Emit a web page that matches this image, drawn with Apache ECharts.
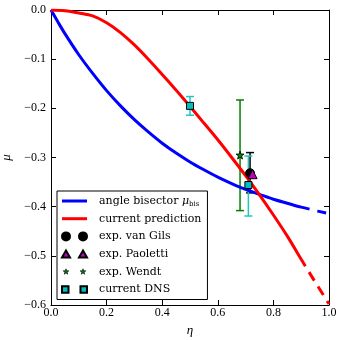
<!DOCTYPE html>
<html>
<head>
<meta charset="utf-8">
<script src="https://cdn.jsdelivr.net/npm/echarts@6.0.0/dist/echarts.min.js"></script>
<style>
  html, body { margin: 0; padding: 0; background: #fff; }
  #chart { width: 340px; height: 340px; }
</style>
</head>
<body>
<div id="chart"></div>
<script>
// angle bisector mu_bis, solid part and dashed tail
const etaBis = [0, 0.025, 0.05, 0.1, 0.15, 0.2, 0.25, 0.3, 0.35, 0.4, 0.45, 0.5, 0.55, 0.6, 0.65, 0.7, 0.75, 0.8, 0.85, 0.9, 0.93];
const muBis = [0, -0.0245, -0.048, -0.091, -0.129, -0.164, -0.195, -0.223, -0.248, -0.271, -0.291, -0.309, -0.325, -0.34, -0.353, -0.365, -0.375, -0.385, -0.393, -0.401, -0.405];
const etaBisTail = [0.93, 0.96, 1.0];
const muBisTail = [-0.405, -0.409, -0.414];

// current prediction
const etaPred = [0, 0.05, 0.1, 0.15, 0.2, 0.25, 0.3, 0.35, 0.4, 0.45, 0.5, 0.55, 0.6, 0.65, 0.7, 0.75, 0.8, 0.85, 0.9, 0.915];
const muPred = [0, -0.0015, -0.006, -0.012, -0.026, -0.046, -0.071, -0.1, -0.131, -0.163, -0.196, -0.23, -0.264, -0.3, -0.337, -0.376, -0.417, -0.46, -0.507, -0.521];
const etaPredTail = [0.915, 0.95, 1.0];
const muPredTail = [-0.521, -0.553, -0.598];

// measurements
const gilsEta = [0.716], gilsMu = [-0.332], gilsLo = [-0.372], gilsHi = [-0.29];
const paolettiEta = [0.725], paolettiMu = [-0.334];
const wendtEta = [0.68], wendtMu = [-0.295], wendtLo = [-0.408], wendtHi = [-0.183];
const dnsEta = [0.5, 0.71], dnsMu = [-0.195, -0.356], dnsLo = [-0.214, -0.419], dnsHi = [-0.176, -0.297];

const xTicks = [0, 0.2, 0.4, 0.6, 0.8, 1.0];
const yTicks = [0, -0.1, -0.2, -0.3, -0.4, -0.5, -0.6];

const FONT = '"Liberation Serif", "DejaVu Serif", serif';
const LEGEND_FONT = '"DejaVu Serif", serif';
const STAR = 'path://M4,0L4.94,2.71L7.8,2.76L5.52,4.49L6.35,7.24L4,5.6L1.65,7.24L2.48,4.49L0.2,2.76L3.06,2.71Z';

const pairs = (xs, ys) => xs.map((x, i) => [x, ys[i]]);

function errorBars(name, color, eta, lo, hi) {
  return {
    type: 'custom',
    name: name,
    z: 1,
    silent: true,
    data: eta.map((x, i) => [x, lo[i], hi[i]]),
    encode: { x: 0, y: [1, 2] },
    renderItem(params, api) {
      const top = api.coord([api.value(0), api.value(2)]);
      const bot = api.coord([api.value(0), api.value(1)]);
      const w = 4;
      const style = { stroke: color, lineWidth: 1.5 };
      return {
        type: 'group',
        children: [
          { type: 'line', shape: { x1: top[0], y1: top[1], x2: bot[0], y2: bot[1] }, style },
          { type: 'line', shape: { x1: top[0] - w, y1: top[1], x2: top[0] + w, y2: top[1] }, style },
          { type: 'line', shape: { x1: bot[0] - w, y1: bot[1], x2: bot[0] + w, y2: bot[1] }, style },
        ],
      };
    },
  };
}

const fmtY = v => (Math.abs(v) < 1e-9 ? '0.0' : '\u2212' + Math.abs(v).toFixed(1));
const fmtX = v => v.toFixed(1);

const baseX = {
  type: 'value', min: xTicks[0], max: xTicks[xTicks.length - 1], interval: 0.2,
  axisLine: { show: true, onZero: false, lineStyle: { color: '#000', width: 1 } },
  axisTick: { show: true, inside: true, length: 5, lineStyle: { color: '#000' } },
  splitLine: { show: false },
};
const baseY = {
  type: 'value', min: yTicks[yTicks.length - 1], max: yTicks[0], interval: 0.1,
  axisLine: { show: true, onZero: false, lineStyle: { color: '#000', width: 1 } },
  axisTick: { show: true, inside: true, length: 5, lineStyle: { color: '#000' } },
  splitLine: { show: false },
};

const option = {
  animation: false,
  backgroundColor: '#fff',
  textStyle: { fontFamily: FONT },
  grid: { left: 51, right: 11, top: 10, bottom: 35, containLabel: false, outerBoundsMode: 'none' },
  xAxis: [
    Object.assign({}, baseX, {
      position: 'bottom',
      name: '\u03b7', nameLocation: 'middle', nameGap: 15,
      nameTextStyle: { fontFamily: FONT, fontStyle: 'italic', fontSize: 13, color: '#000' },
      axisLabel: { formatter: fmtX, margin: 2, fontFamily: FONT, fontSize: 12, color: '#000' },
    }),
    Object.assign({}, baseX, { position: 'top', axisLabel: { show: false } }),
  ],
  yAxis: [
    Object.assign({}, baseY, {
      position: 'left',
      name: '\u03bc', nameLocation: 'middle', nameGap: 38, nameRotate: 90,
      nameTextStyle: { fontFamily: FONT, fontStyle: 'italic', fontSize: 13, color: '#000' },
      axisLabel: { formatter: fmtY, margin: 5, fontFamily: FONT, fontSize: 12, color: '#000' },
    }),
    Object.assign({}, baseY, { position: 'right', axisLabel: { show: false } }),
  ],
  legend: {
    orient: 'vertical',
    left: 57, top: 191,
    padding: [3, 6, 3, 4],
    itemWidth: 25, itemHeight: 8, itemGap: 3.7,
    backgroundColor: '#fff',
    borderColor: '#000', borderWidth: 1, borderRadius: 0,
    selectedMode: false,
    textStyle: {
      fontFamily: LEGEND_FONT, fontSize: 11, color: '#000', lineHeight: 14, padding: [0, 0, 0, 7],
      rich: {
        it: { fontFamily: LEGEND_FONT, fontStyle: 'italic', fontSize: 11, lineHeight: 14 },
        sub: { fontFamily: LEGEND_FONT, fontSize: 7, lineHeight: 14, verticalAlign: 'bottom', padding: [4, 0, 0, 0] },
      },
    },
    formatter: name => name === 'angle bisector' ? 'angle bisector {it|\u03bc}{sub|bis}' : name,
    data: [
      { name: 'angle bisector', icon: 'path://M0,0h25v3h-25z', itemStyle: { borderWidth: 0 } },
      { name: 'current prediction', icon: 'path://M0,0h25v3h-25z', itemStyle: { borderWidth: 0 } },
      { name: 'exp. van Gils', icon: 'path://M0,4a4,4 0 1,0 8,0a4,4 0 1,0 -8,0Z M17,4a4,4 0 1,0 8,0a4,4 0 1,0 -8,0Z' },
      { name: 'exp. Paoletti', icon: 'path://M0,7L4,0L8,7Z M17,7L21,0L25,7Z' },
      { name: 'exp. Wendt', icon: 'path://M4,1L4.7,3.03L6.85,3.07L5.14,4.37L5.76,6.43L4,5.2L2.24,6.43L2.86,4.37L1.15,3.07L3.3,3.03Z M21,1L21.7,3.03L23.85,3.07L22.14,4.37L22.76,6.43L21,5.2L19.24,6.43L19.86,4.37L18.15,3.07L20.3,3.03Z M0,0.5h0.01v0.01h-0.01Z M25,7.5h0.01v0.01h-0.01Z', itemStyle: { borderWidth: 0.6 } },
      { name: 'current DNS', icon: 'path://M1,1h6v6h-6Z M18,1h6v6h-6Z' },
    ],
  },
  series: [
    errorBars('err Wendt', '#008000', wendtEta, wendtLo, wendtHi),
    errorBars('err van Gils', '#000', gilsEta, gilsLo, gilsHi),
    errorBars('err DNS', '#22c4c4', dnsEta, dnsLo, dnsHi),
    {
      type: 'line', name: 'angle bisector', z: 2,
      data: pairs(etaBis, muBis), showSymbol: false, symbol: 'none', smooth: 0.3,
      itemStyle: { color: '#0000ff' },
      lineStyle: { color: '#0000ff', width: 3 },
    },
    {
      type: 'line', name: 'bisector tail', z: 2,
      data: pairs(etaBisTail, muBisTail), showSymbol: false, symbol: 'none',
      lineStyle: { color: '#0000ff', width: 3, type: [9, 8], dashOffset: 9 },
    },
    {
      type: 'line', name: 'current prediction', z: 2,
      data: pairs(etaPred, muPred), showSymbol: false, symbol: 'none', smooth: 0.3,
      itemStyle: { color: '#ff0000' },
      lineStyle: { color: '#ff0000', width: 3 },
    },
    {
      type: 'line', name: 'prediction tail', z: 2,
      data: pairs(etaPredTail, muPredTail), showSymbol: false, symbol: 'none',
      lineStyle: { color: '#ff0000', width: 3, type: [10, 7], dashOffset: 10 },
    },
    {
      type: 'scatter', name: 'exp. van Gils', z: 3,
      data: pairs(gilsEta, gilsMu), symbol: 'circle', symbolSize: 9,
      itemStyle: { color: '#000', borderColor: '#000', borderWidth: 1, opacity: 1 },
    },
    {
      type: 'scatter', name: 'exp. Paoletti', z: 3,
      data: pairs(paolettiEta, paolettiMu), symbol: 'triangle', symbolSize: 9,
      itemStyle: { color: '#bf00bf', borderColor: '#000', borderWidth: 1, opacity: 1 },
    },
    {
      type: 'scatter', name: 'exp. Wendt', z: 3,
      data: pairs(wendtEta, wendtMu), symbol: STAR, symbolSize: 8,
      itemStyle: { color: '#008000', borderColor: '#000', borderWidth: 0.8, opacity: 1 },
    },
    {
      type: 'scatter', name: 'current DNS', z: 3,
      data: pairs(dnsEta, dnsMu), symbol: 'rect', symbolSize: 7,
      itemStyle: { color: '#00bfbf', borderColor: '#000', borderWidth: 1, opacity: 1 },
    },
  ],
};

const chart = echarts.init(document.getElementById('chart'));
chart.setOption(option);
</script>
</body>
</html>
